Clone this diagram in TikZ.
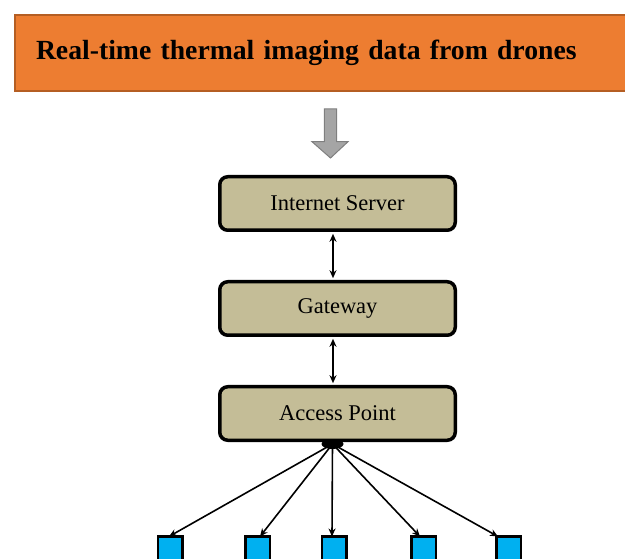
\documentclass[tikz,border=0pt]{standalone}
\usepackage{fontspec}
\setmainfont{Liberation Serif}
\usetikzlibrary{arrows.meta,shapes.geometric}
\definecolor{orangefill}{HTML}{ED7D31}
\definecolor{orangeedge}{HTML}{B55E23}
\definecolor{tanfill}{HTML}{C4BD97}
\definecolor{skyblue}{HTML}{00B0F0}
\definecolor{grayfill}{HTML}{A5A5A5}
\definecolor{grayedge}{HTML}{7F7F7F}

\begin{document}
\begin{tikzpicture}[x=1pt,y=-1pt,
  netbox/.style={draw=black,line width=3.5pt,rounded corners=8pt,fill=tanfill,
    minimum width=235.5pt,minimum height=53.5pt,inner sep=0pt,
    font=\fontsize{22.5}{26}\selectfont},
  leaf/.style={draw=black,line width=2.5pt,fill=skyblue,minimum size=24.5pt,inner sep=0pt},
  link/.style={line width=1.6pt,-{Stealth[length=8pt,width=7pt]}},
  dlink/.style={line width=1.6pt,{Stealth[length=8pt,width=7pt]}-{Stealth[length=8pt,width=7pt]},
    shorten <=1.8pt,shorten >=1.8pt}]
\useasboundingbox (0,0) rectangle (625,559);
\begin{scope}
\clip (0,0) rectangle (625,559);

% banner across the top, running off the right edge
\node (title) [draw=orangeedge,line width=2pt,fill=orangefill,anchor=north west,
  minimum height=76pt,text width=584pt,align=left,inner xsep=21pt,inner ysep=0pt,
  font=\fontsize{27.7}{32}\selectfont\bfseries] at (14,14)
  {Real-time thermal imaging data from drones};

% grey block arrow
\draw[grayedge,fill=grayfill,line width=1pt]
  (324.3,109) -- (336.7,109) -- (336.7,141.7) -- (348,141.7) -- (330.5,158)
  -- (312,141.7) -- (324.3,141.7) -- cycle;

% network chain
\node (server)  [netbox] at (337.5,203.5) {Internet Server};
\node (gateway) [netbox] at (337.5,308.5) {Gateway};
\node (access)  [netbox] at (337.5,413.5) {Access Point};

\draw[dlink] ([xshift=-4.5pt]server.south) -- ([xshift=-4.5pt]gateway.north);
\draw[dlink] ([xshift=-4.5pt]gateway.south) -- ([xshift=-4.5pt]access.north);

% hub under the access point
\node (hub) [ellipse,fill=black,minimum width=22pt,minimum height=10pt,inner sep=0pt] at (332.5,444) {};

% end devices
\node (d1) [leaf] at (170,548.5) {};
\node (d2) [leaf] at (257.5,548.5) {};
\node (d3) [leaf] at (334,548.5) {};
\node (d4) [leaf] at (423.5,548.5) {};
\node (d5) [leaf] at (508.5,548.5) {};

\draw[link] (hub.center) -- ([xshift=-1pt,yshift=-1.5pt]d1.north);
\draw[link] (hub.center) -- ([xshift=2.5pt,yshift=-1.5pt]d2.north);
\draw[link] (hub.center) -- ([xshift=-2pt,yshift=-1.5pt]d3.north);
\draw[link] (hub.center) -- ([xshift=-3.5pt,yshift=-1.5pt]d4.north);
\draw[link] (hub.center) -- ([xshift=-10.5pt,yshift=-1.5pt]d5.north);
\end{scope}
\end{tikzpicture}
\end{document}
